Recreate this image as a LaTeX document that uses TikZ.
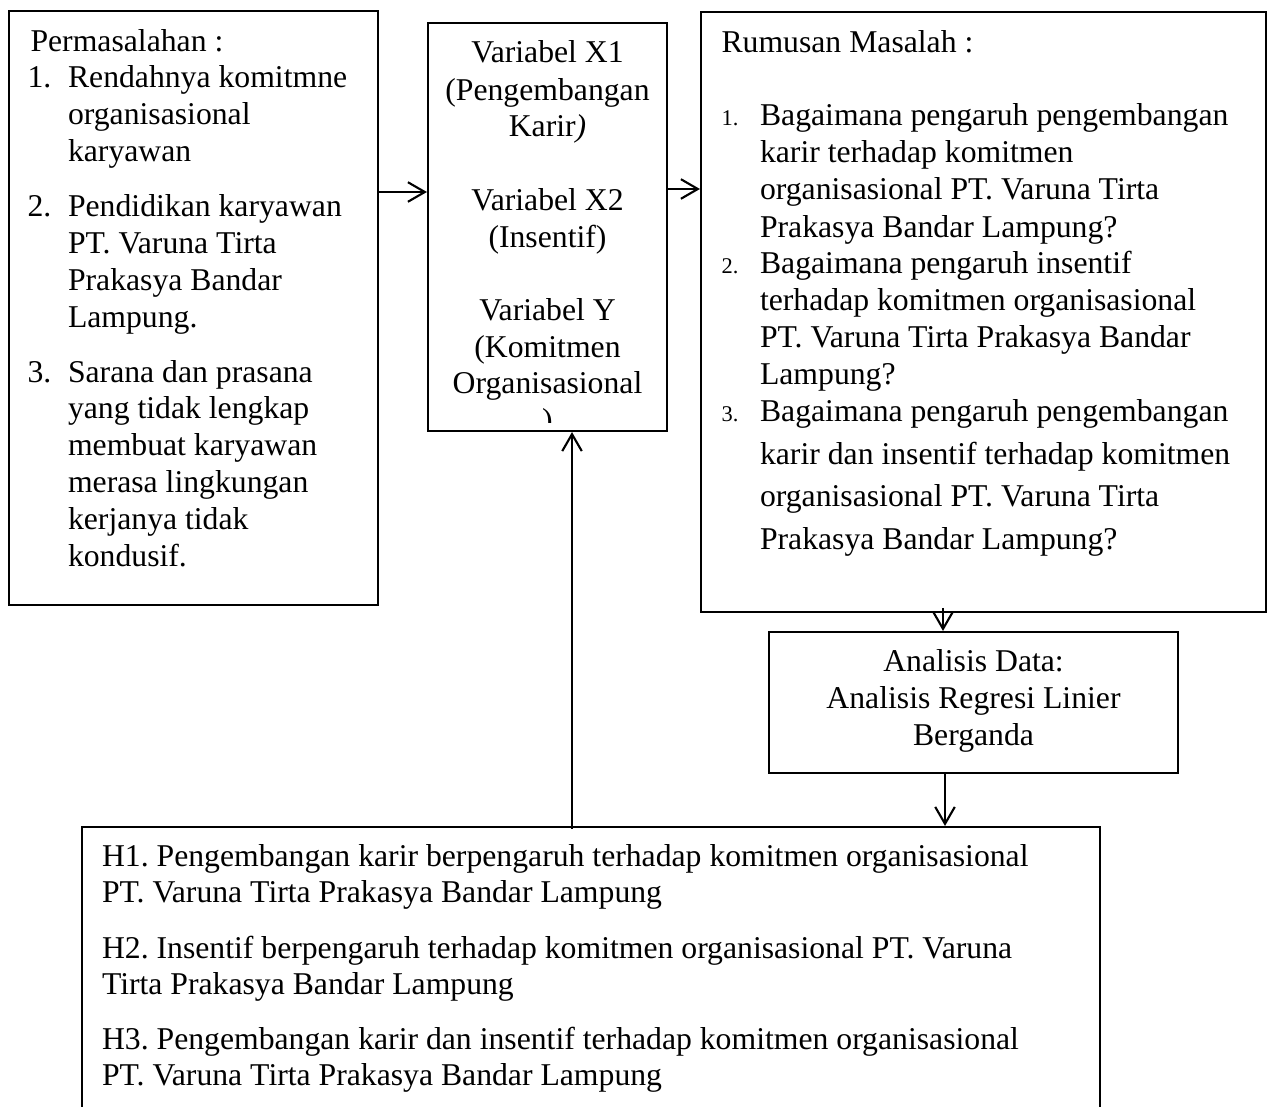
\documentclass[tikz,border=0pt]{standalone}
\usepackage{fontspec}
\setmainfont{Liberation Serif}
\usetikzlibrary{arrows.meta,fit}
\frenchspacing
\begin{document}
\begin{tikzpicture}[x=0.3785pt,y=-0.3785pt,
  box/.style={draw, line width=0.8pt, inner sep=0pt},
  arr/.style={-{Straight Barb[length=6.4pt,width=7.4pt,line width=0.8pt]}, line width=0.8pt},
  txt/.style={anchor=base west, inner sep=0pt, font=\fontsize{12}{14}\selectfont},
  ctxt/.style={anchor=base, inner sep=0pt, font=\fontsize{12}{14}\selectfont},
  num/.style={anchor=base west, inner sep=0pt, font=\fontsize{8.5}{10}\selectfont}]
\useasboundingbox (0,0) rectangle (1273,1106);

% boxes
\node[box, fit={(9,11) (378,605)}] (left) {};
\node[box, fit={(428,23) (667,431)}] (mid) {};
\node[box, fit={(701,12) (1266,612)}] (right) {};
\node[box, fit={(769,632) (1178,773)}] (ana) {};
\node[box, fit={(82,827) (1100,1140)}] (hyp) {};

% left box text
\node[txt] (ptitle) at (30,52) {Permasalahan :};
\node[txt] (pn1) at (27,87.5) {1.};
\foreach \s [count=\i from 0] in {Rendahnya komitmne, organisasional, karyawan}
  \node[txt] (pa\i) at (67.5,{87.5+\i*36.85}) {\s};
\node[txt] (pn2) at (27,216.5) {2.};
\foreach \s [count=\i from 0] in {Pendidikan karyawan, PT. Varuna Tirta, Prakasya Bandar, Lampung.}
  \node[txt] (pb\i) at (67.5,{216.5+\i*36.85}) {\s};
\node[txt] (pn3) at (27,382) {3.};
\foreach \s [count=\i from 0] in {Sarana dan prasana, yang tidak lengkap, membuat karyawan, merasa lingkungan, kerjanya tidak, kondusif.}
  \node[txt] (pc\i) at (67.5,{382+\i*36.85}) {\s};

% middle box text
\begin{scope}
\clip (429,24) rectangle (666,422);
\node[ctxt] (m0) at (547.5,63) {Variabel X1};
\node[ctxt] (m1) at (547.5,100) {(Pengembangan};
\node[ctxt] (m2) at (547.5,136) {Karir\textit{)}};
\node[ctxt] (m3) at (547.5,210) {Variabel X2};
\node[ctxt] (m4) at (547.5,247) {(Insentif)};
\node[ctxt] (m5) at (547.5,320) {Variabel Y};
\node[ctxt] (m6) at (547.5,357) {(Komitmen};
\node[ctxt] (m7) at (547.5,393.5) {Organisasional};
\node[ctxt] (m8) at (547.5,430) {)};
\end{scope}

% right box text
\node[txt] (rtitle) at (721,53) {Rumusan Masalah :};
\node[num] (rn1) at (721,125) {1.};
\foreach \s/\y in {Bagaimana pengaruh pengembangan/125, karir terhadap komitmen/162, organisasional PT. Varuna Tirta/199.5, Prakasya Bandar Lampung?/237}
  \node[txt] (ra\y) at (759.5,\y) {\s};
\node[num] (rn2) at (721,273.5) {2.};
\foreach \s/\y in {Bagaimana pengaruh insentif/273.5, terhadap komitmen organisasional/310, PT. Varuna Tirta Prakasya Bandar/347, Lampung?/384}
  \node[txt] (rb\y) at (759.5,\y) {\s};
\node[num] (rn3) at (721,421) {3.};
\foreach \s/\y in {Bagaimana pengaruh pengembangan/421, karir dan insentif terhadap komitmen/464, organisasional PT. Varuna Tirta/506, Prakasya Bandar Lampung?/549}
  \node[txt] (rc\y) at (759.5,\y) {\s};

% analysis box text
\node[ctxt] (a0) at (973.5,671) {Analisis Data:};
\node[ctxt] (a1) at (973.5,708) {Analisis Regresi Linier};
\node[ctxt] (a2) at (973.5,745) {Berganda};

% hypotheses
\node[txt] (h1) at (101.5,866) {H1. Pengembangan karir berpengaruh terhadap komitmen organisasional};
\node[txt] (h1b) at (101.5,902) {PT. Varuna Tirta Prakasya Bandar Lampung};
\node[txt] (h2) at (101.5,958) {H2. Insentif berpengaruh terhadap komitmen organisasional PT. Varuna};
\node[txt] (h2b) at (101.5,994) {Tirta Prakasya Bandar Lampung};
\node[txt] (h3) at (101.5,1049) {H3. Pengembangan karir dan insentif terhadap komitmen organisasional};
\node[txt] (h3b) at (101.5,1085) {PT. Varuna Tirta Prakasya Bandar Lampung};

% connectors
\coordinate (yl) at (0,192);
\coordinate (yr) at (0,189);
\coordinate (xa) at (943,0);
\coordinate (xb) at (945,0);
\coordinate (xc) at (572,0);
\draw[arr] (left.east |- yl) -- (mid.west |- yl);
\draw[arr] (mid.east |- yr) -- (right.west |- yr);
\draw[arr] ([yshift=2pt]xa |- right.south) -- (xa |- ana.north);
\draw[arr] (xb |- ana.south) -- (xb |- hyp.north);
\draw[arr] ([yshift=-1pt]xc |- hyp.north) -- (xc |- mid.south);
\end{tikzpicture}
\end{document}
